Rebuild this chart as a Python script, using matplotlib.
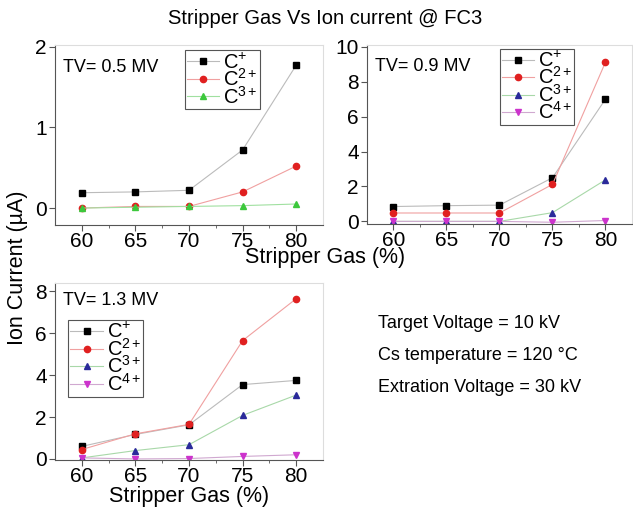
import matplotlib
matplotlib.use("Agg")
import matplotlib.pyplot as plt

plt.rcParams["font.family"] = ["Liberation Sans", "DejaVu Sans"]
plt.rcParams["mathtext.fontset"] = "custom"
plt.rcParams["mathtext.rm"] = "Liberation Sans"
plt.rcParams["mathtext.it"] = "Liberation Sans"

# data
gas = [60, 65, 70, 75, 80]

tv05_c1 = [0.19, 0.20, 0.22, 0.72, 1.77]
tv05_c2 = [0.00, 0.02, 0.02, 0.20, 0.52]
tv05_c3 = [0.00, 0.01, 0.02, 0.03, 0.05]

tv09_c1 = [0.85, 0.90, 0.93, 2.50, 7.00]
tv09_c2 = [0.48, 0.48, 0.48, 2.12, 9.12]
tv09_c3 = [0.00, 0.00, 0.00, 0.50, 2.38]
tv09_c4 = [0.00, 0.00, 0.00, -0.05, 0.05]

tv13_c1 = [0.60, 1.17, 1.63, 3.55, 3.75]
tv13_c2 = [0.45, 1.20, 1.65, 5.65, 7.65]
tv13_c3 = [0.05, 0.40, 0.68, 2.08, 3.05]
tv13_c4 = [0.05, 0.00, 0.02, 0.12, 0.20]

labels = ["C$^{+}$", "C$^{2+}$", "C$^{3+}$", "C$^{4+}$"]

W, H = 633, 508
fig = plt.figure(figsize=(W / 100, H / 100), dpi=100)


def px_axes(left, right, top, bottom):
    return fig.add_axes([left / W, (H - bottom) / H, (right - left) / W, (bottom - top) / H])


def style(ax):
    for s in ("left", "bottom"):
        ax.spines[s].set_color("#555555")
    for s in ("top", "right"):
        ax.spines[s].set_color("#dddddd")
    ax.set_xlim(57.5, 82.5)
    ax.set_xticks(gas)
    ax.set_xticks([62.5, 67.5, 72.5, 77.5], minor=True)
    ax.tick_params(labelsize=15, length=4, color="#555555", pad=2)
    ax.tick_params(which="minor", length=2, color="#555555")
    ax.tick_params(axis="x", pad=1)


def series(ax, ys, mk, mc, lc, lab):
    ax.plot(gas, ys, color=lc, lw=0.8, marker=mk, ms=4.5,
            mfc=mc, mec=mc, label=lab)


def legend(ax, loc):
    lg = ax.legend(loc="upper left", bbox_to_anchor=loc, fontsize=14.5,
                   handlelength=1.6, handletextpad=0.2, labelspacing=-0.22,
                   borderpad=0.1, borderaxespad=0, fancybox=False, framealpha=1)
    lg.get_frame().set_edgecolor("#555555")
    lg.get_frame().set_linewidth(0.8)


# TV = 0.5 MV
ax1 = px_axes(55, 323, 45, 225)
series(ax1, tv05_c1, "s", "black", "#bbbbbb", labels[0])
series(ax1, tv05_c2, "o", "#e02020", "#f0a0a0", labels[1])
series(ax1, tv05_c3, "^", "#3cc83c", "#a0e0a0", labels[2])
ax1.set_ylim(-0.21, 2.02)
ax1.set_yticks([0, 1, 2])
style(ax1)
ax1.text(0.03, 0.92, "TV= 0.5 MV", transform=ax1.transAxes, fontsize=13, va="top")
legend(ax1, (0.485, 0.97))

# TV = 0.9 MV
ax2 = px_axes(367, 632, 45, 224)
series(ax2, tv09_c1, "s", "black", "#bbbbbb", labels[0])
series(ax2, tv09_c2, "o", "#e02020", "#f0a0a0", labels[1])
series(ax2, tv09_c3, "^", "#2a2a9a", "#a8d8a8", labels[2])
series(ax2, tv09_c4, "v", "#cc33cc", "#d0a8d0", labels[3])
ax2.set_ylim(-0.15, 10.1)
ax2.set_yticks([0, 2, 4, 6, 8, 10])
style(ax2)
ax2.text(0.03, 0.93, "TV= 0.9 MV", transform=ax2.transAxes, fontsize=13, va="top")
legend(ax2, (0.50, 0.98))

# TV = 1.3 MV
ax3 = px_axes(55, 323, 283, 460)
series(ax3, tv13_c1, "s", "black", "#bbbbbb", labels[0])
series(ax3, tv13_c2, "o", "#e02020", "#f0a0a0", labels[1])
series(ax3, tv13_c3, "^", "#2a2a9a", "#a8d8a8", labels[2])
series(ax3, tv13_c4, "v", "#cc33cc", "#d0a8d0", labels[3])
ax3.set_ylim(-0.05, 8.4)
ax3.set_yticks([0, 2, 4, 6, 8])
style(ax3)
ax3.text(0.03, 0.95, "TV= 1.3 MV", transform=ax3.transAxes, fontsize=13, va="top")
legend(ax3, (0.05, 0.79))
ax3.set_xlabel("Stripper Gas (%)", fontsize=15.5, labelpad=0)

fig.text(325 / W, 1 - 18 / H, "Stripper Gas Vs Ion current @ FC3",
         ha="center", va="center", fontsize=14.5)
fig.text(325 / W, 1 - 258 / H, "Stripper Gas (%)", ha="center", va="center", fontsize=15.5)
fig.text(18 / W, 1 - 268 / H, "Ion Current (µA)", rotation=90,
         ha="center", va="center", fontsize=15.5)

for y, s in [(323, "Target Voltage = 10 kV"),
             (355, "Cs temperature = 120 °C"),
             (387, "Extration Voltage = 30 kV")]:
    fig.text(378 / W, 1 - y / H, s, ha="left", va="center", fontsize=13)

fig.savefig("out.png", dpi=100)
